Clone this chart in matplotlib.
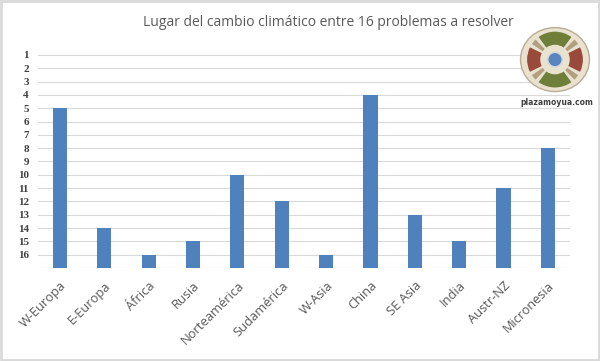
import matplotlib
matplotlib.use("Agg")
import matplotlib.pyplot as plt
from matplotlib.patches import Rectangle, Ellipse, Wedge, Circle

# Ranking (1 = most important) of climate change among 16 problems
regiones = ["W-Europa", "E-Europa", "África", "Rusia", "Norteamérica", "Sudamérica",
            "W-Asia", "China", "SE Asia", "India", "Austr-NZ", "Micronesia"]
puesto = [5, 14, 16, 15, 10, 12, 16, 4, 13, 15, 11, 8]
ticks_y = list(range(1, 17))
base = 17

fig = plt.figure(figsize=(6, 3.61), dpi=100)
ax = fig.add_axes([0.063, 0.2576, 0.887, 0.627])

x = range(len(regiones))
ax.bar(x, [base - p for p in puesto], bottom=puesto, width=0.32, color="#4f81bd", zorder=3)

ax.set_ylim(base, 0)
ax.set_xlim(-0.5, len(regiones) - 0.5)
ax.set_yticks(ticks_y + [base])
ax.set_yticklabels([str(t) for t in ticks_y] + [""], fontfamily="Liberation Serif",
                   fontweight="bold", fontsize=8, color="#404040")
ax.set_xticks(list(x))
ax.set_xticklabels(regiones, rotation=45, ha="right", rotation_mode="anchor",
                   fontfamily="Open Sans", fontsize=9.3, color="#595959")
ax.tick_params(axis="both", length=0)
ax.tick_params(axis="y", pad=6.5)
ax.tick_params(axis="x", pad=8)
ax.grid(axis="y", color="#d9d9d9", linewidth=0.8, zorder=0)
for s in ax.spines.values():
    s.set_visible(False)

fig.text(0.548, 0.939, "Lugar del cambio climático entre 16 problemas a resolver",
         ha="center", va="center", fontfamily="Open Sans", fontsize=10, color="#595959")

# logo plazamoyua
lg = fig.add_axes([0.86, 0.735, 0.13, 0.2])
lg.set_xlim(-1.1, 1.1)
lg.set_ylim(-1.1, 1.1)
lg.set_aspect("equal")
lg.axis("off")
lg.add_patch(Ellipse((0, 0), 2.1, 1.95, facecolor="#e9e2cf", edgecolor="#b8ad95", lw=1))
for a1, a2, c in [(50, 130, "#6f7f3a"), (230, 310, "#6f7f3a"),
                  (150, 210, "#9a4a3a"), (-30, 30, "#9a4a3a"),
                  (130, 150, "#b0a080"), (210, 230, "#b0a080"),
                  (310, 330, "#b0a080"), (30, 50, "#b0a080")]:
    lg.add_patch(Wedge((0, 0), 0.85, a1 + 4, a2 - 4, width=0.4, facecolor=c, edgecolor="none"))
lg.add_patch(Circle((0, 0), 0.22, facecolor="#5a86c0", edgecolor="#d0d8e0", lw=1))
fig.text(0.928, 0.717, "plazamoyua.com", ha="center", va="center",
         fontfamily="DejaVu Sans", fontweight="bold", fontsize=5.5, color="#404040")

fig.add_artist(Rectangle((0.002, 0.003), 0.996, 0.994, transform=fig.transFigure,
                         fill=False, edgecolor="#d9d9d9", lw=2))

fig.savefig("out.png", dpi=100, facecolor="white")
